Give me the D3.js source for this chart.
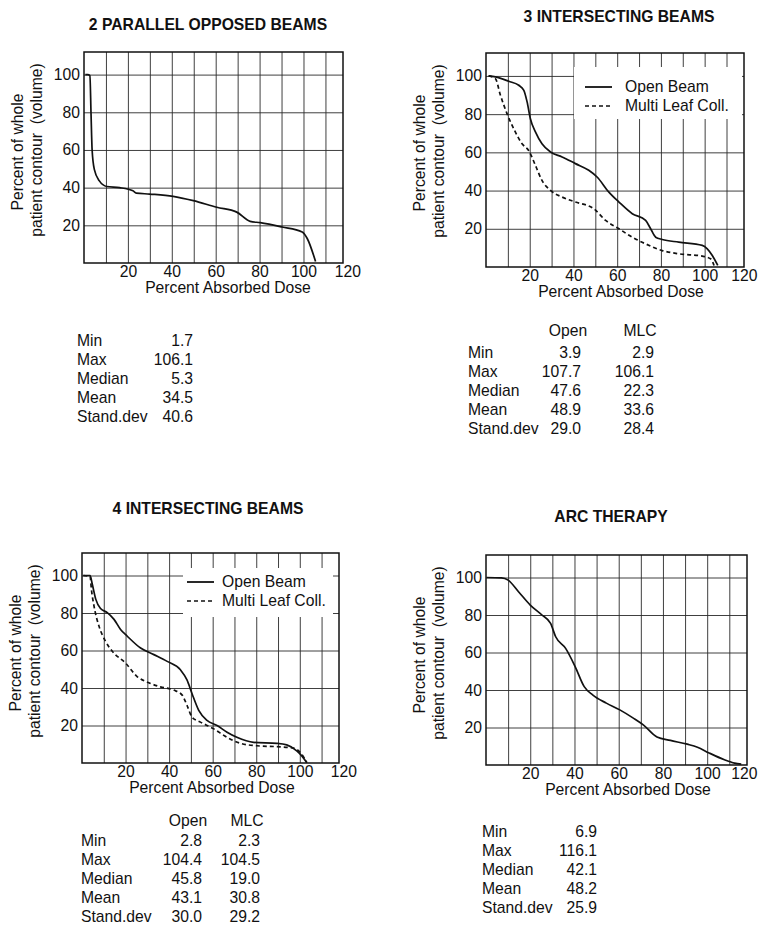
<!DOCTYPE html>
<html>
<head>
<meta charset="utf-8">
<script src="https://cdn.jsdelivr.net/npm/d3@7"></script>
<style>
  body { margin: 0; background: #fff; }
  svg { display: block; font-family: "Liberation Sans", Arial, sans-serif; }
  .grid line { stroke: #2a2a2a; stroke-width: 0.9; }
  .tick text { fill: #111; font-size: 15.7px; }
</style>
</head>
<body>
<svg id="chart"></svg>
<script>
const xTicks = [20, 40, 60, 80, 100, 120];
const yTicks = [20, 40, 60, 80, 100];
const xGrid = [10, 20, 30, 40, 50, 60, 70, 80, 90, 100, 110];
const statLabels = ["Min", "Max", "Median", "Mean", "Stand.dev"];
const seriesNames = ["Open Beam", "Multi Leaf Coll."];
const statHeads = ["Open", "MLC"];

// 2 parallel opposed beams
const parallelDose   = [0.6, 1.7, 2.7, 3.2, 3.7, 4.7, 7.0, 10.4, 16.2, 22.3, 23.8, 29.9, 40.6, 49.8, 60.5, 69.6, 75.7, 80.3, 90.2, 99.4, 101.7, 105.5];
const parallelVolume = [100, 100, 99.5, 79.4, 60.0, 49.7, 43.6, 40.6, 40.0, 38.3, 37.1, 36.6, 35.4, 33.1, 29.6, 27.0, 22.1, 21.4, 19.1, 16.5, 13.0, 0.8];
const parallelStats  = [1.7, 106.1, 5.3, 34.5, 40.6];

// 3 intersecting beams
const threeOpenDose   = [1.2, 4.3, 10.4, 15.0, 17.3, 18.8, 20.3, 22.6, 25.6, 29.5, 34.8, 40.9, 47.0, 50.8, 56.2, 60.8, 66.9, 73.0, 75.3, 77.6, 80.6, 88.2, 98.9, 101.2, 103.5, 106.0];
const threeOpenVolume = [100, 99.5, 97.2, 95.1, 92.5, 86.4, 77.6, 70.7, 64.5, 60.2, 57.6, 54.1, 50.6, 47.1, 39.2, 34.0, 27.9, 24.4, 20.0, 15.6, 14.4, 13.0, 11.3, 9.5, 6.0, 0.8];
const threeMlcDose    = [1.2, 4.3, 6.6, 9.6, 13.4, 16.5, 19.5, 22.6, 25.6, 29.5, 34.8, 40.9, 49.3, 54.7, 60.8, 66.9, 73.0, 80.6, 88.2, 98.9, 102.7, 104.3];
const threeMlcVolume  = [100, 98.6, 89.9, 80.3, 70.7, 64.5, 61.0, 53.2, 45.3, 40.1, 36.6, 34.0, 30.5, 24.4, 20.0, 15.6, 12.1, 8.6, 6.9, 5.7, 4.3, 0.8];
const threeOpenStats  = [3.9, 107.7, 47.6, 48.9, 29.0];
const threeMlcStats   = [2.9, 106.1, 22.3, 33.6, 28.4];

// 4 intersecting beams
const fourOpenDose   = [0.6, 3.7, 4.7, 6.3, 8.5, 11.6, 14.7, 17.7, 20.8, 26.9, 33.0, 39.1, 45.2, 48.2, 50.5, 53.6, 57.4, 62.0, 66.6, 71.1, 78.8, 89.5, 94.0, 98.6, 100.9, 103.2];
const fourOpenVolume = [100, 100, 95.5, 87.4, 82.4, 80.2, 76.6, 71.2, 67.6, 61.3, 57.8, 54.2, 49.7, 44.3, 37.1, 28.1, 22.7, 20.0, 16.4, 13.7, 11.0, 10.5, 9.7, 6.5, 3.8, 0.2];
const fourMlcDose    = [0.6, 3.7, 4.3, 5.5, 7.8, 10.8, 13.9, 20.0, 25.3, 30.7, 36.0, 42.1, 46.0, 48.2, 50.5, 54.4, 60.5, 66.6, 72.7, 80.3, 89.5, 97.1, 100.2, 102.4, 103.2];
const fourMlcVolume  = [100, 99.6, 92.8, 83.8, 73.0, 64.9, 59.6, 53.3, 46.1, 42.8, 40.6, 38.9, 36.2, 30.8, 24.5, 21.8, 18.2, 13.7, 10.5, 9.2, 8.7, 8.0, 5.6, 2.0, 0.2];
const fourOpenStats  = [2.8, 104.4, 45.8, 43.1, 30.0];
const fourMlcStats   = [2.3, 104.5, 19.0, 30.8, 29.2];

// arc therapy
const arcDose   = [0.2, 7.0, 10.0, 14.7, 20.0, 25.3, 29.2, 31.5, 36.0, 40.3, 44.4, 48.2, 54.4, 60.5, 66.6, 71.1, 77.3, 83.4, 91.0, 95.6, 100.9, 107.8, 112.4, 115.4];
const arcVolume = [100, 99.8, 98.6, 92.4, 85.3, 80.0, 75.5, 68.4, 62.2, 52.5, 41.8, 37.4, 33.0, 29.4, 25.0, 21.4, 14.9, 13.1, 11.1, 9.5, 6.4, 2.8, 1.0, 0.5];
const arcStats  = [6.9, 116.1, 42.1, 48.2, 25.9];

const toPoints = (xs, ys) => xs.map((d, i) => ({ dose: d, volume: ys[i] }));

const panels = [
  {
    title: "2 PARALLEL OPPOSED BEAMS", titleX: 208, titleY: 30,
    box: { left: 84, top: 52, width: 259, height: 211 },
    xLabelDx: 144,
    series: [toPoints(parallelDose, parallelVolume)],
    legend: null,
    stats: { cols: [parallelStats], heads: null, labelX: 77, valueX: [193], top: 346 }
  },
  {
    title: "3 INTERSECTING BEAMS", titleX: 619, titleY: 22,
    box: { left: 486, top: 53, width: 258, height: 214 },
    xLabelDx: 135,
    series: [toPoints(threeOpenDose, threeOpenVolume), toPoints(threeMlcDose, threeMlcVolume)],
    legend: { x: 574, y: 67, w: 168, h: 52, lineX: 585, textX: 625, row0: 92 },
    stats: { cols: [threeOpenStats, threeMlcStats], heads: [568, 640], headY: 336, labelX: 468, valueX: [581, 654], top: 358 }
  },
  {
    title: "4 INTERSECTING BEAMS", titleX: 208, titleY: 514,
    box: { left: 82, top: 553, width: 257, height: 210 },
    xLabelDx: 130,
    series: [toPoints(fourOpenDose, fourOpenVolume), toPoints(fourMlcDose, fourMlcVolume)],
    legend: { x: 183, y: 568, w: 150, h: 49, lineX: 187, textX: 222, row0: 587 },
    stats: { cols: [fourOpenStats, fourMlcStats], heads: [188, 247], headY: 826, labelX: 81, valueX: [202, 260], top: 846 }
  },
  {
    title: "ARC THERAPY", titleX: 611, titleY: 522,
    box: { left: 486, top: 555, width: 261, height: 210 },
    xLabelDx: 142,
    series: [toPoints(arcDose, arcVolume)],
    legend: null,
    stats: { cols: [arcStats], heads: null, labelX: 482, valueX: [597], top: 837 }
  }
];

const FS = 15.7;
const W = 758;
const svg = d3.select("#chart").attr("width", W).attr("height", 928);
const fmt = d3.format(".1f");
const dashes = [null, "4,3"];

const drawPanel = p => {
  const b = p.box;
  const g = svg.append("g").attr("transform", `translate(${b.left},${b.top})`);

  const x = d3.scaleLinear().domain([0, 118]).range([0, b.width]);
  const y = d3.scaleLinear().domain([0, 112]).range([b.height, 0]);

  // grid
  g.append("g")
    .attr("class", "grid")
    .attr("transform", `translate(0,${b.height})`)
    .call(d3.axisBottom(x).tickValues(xGrid).tickSize(-b.height).tickFormat(""))
    .call(a => a.select(".domain").remove());
  g.append("g")
    .attr("class", "grid")
    .call(d3.axisLeft(y).tickValues(yTicks).tickSize(-b.width).tickFormat(""))
    .call(a => a.select(".domain").remove());

  // tick labels
  g.append("g")
    .attr("transform", `translate(0,${b.height})`)
    .call(d3.axisBottom(x).tickValues(xTicks).tickSize(0).tickPadding(4))
    .call(a => a.select(".domain").remove())
    .selectAll("text")
    .attr("dy", "0.71em").attr("y", 3)
    .each(function(d) {
      // keep the last label inside the page
      const over = b.left + x(d) + this.getBBox().width / 2 - (W - 1);
      if (over > 0) d3.select(this).attr("x", -over);
    });
  g.append("g")
    .call(d3.axisLeft(y).tickValues(yTicks).tickSize(0).tickPadding(4))
    .call(a => a.select(".domain").remove());

  // legend background covers the grid
  if (p.legend) {
    const L = p.legend;
    svg.append("rect")
      .attr("x", L.x).attr("y", L.y).attr("width", L.w).attr("height", L.h)
      .attr("fill", "#fff");
    seriesNames.forEach((name, i) => {
      const ry = L.row0 + i * 19;
      svg.append("line")
        .attr("x1", L.lineX).attr("x2", L.lineX + 27)
        .attr("y1", ry - 5).attr("y2", ry - 5)
        .attr("stroke", "#111").attr("stroke-width", i ? 1.4 : 1.8)
        .attr("stroke-dasharray", dashes[i]);
      svg.append("text")
        .attr("x", L.textX).attr("y", ry)
        .attr("font-size", FS).attr("fill", "#111")
        .text(name);
    });
  }

  // frame
  g.append("rect")
    .attr("width", b.width).attr("height", b.height)
    .attr("fill", "none").attr("stroke", "#111").attr("stroke-width", 1.5);

  const line = d3.line()
    .x(d => x(d.dose))
    .y(d => y(d.volume))
    .curve(d3.curveMonotoneX);

  p.series.forEach((s, i) => {
    g.append("path")
      .datum(s)
      .attr("fill", "none")
      .attr("stroke", "#111")
      .attr("stroke-width", 1.7)
      .attr("stroke-linejoin", "round")
      .attr("stroke-dasharray", dashes[i])
      .attr("d", line);
  });

  // title
  svg.append("text")
    .attr("x", p.titleX).attr("y", p.titleY)
    .attr("text-anchor", "middle")
    .attr("font-size", FS).attr("font-weight", "bold").attr("fill", "#111")
    .text(p.title);

  // axis titles
  svg.append("text")
    .attr("x", b.left + p.xLabelDx).attr("y", b.top + b.height + 30)
    .attr("text-anchor", "middle")
    .attr("font-size", FS).attr("fill", "#111")
    .text("Percent Absorbed Dose");

  const yl = svg.append("g")
    .attr("transform", `translate(${b.left - 61},${b.top + 100}) rotate(-90)`);
  yl.append("text")
    .attr("text-anchor", "middle").attr("font-size", FS).attr("fill", "#111")
    .text("Percent of whole");
  yl.append("text")
    .attr("x", 2).attr("y", 19)
    .attr("text-anchor", "middle").attr("font-size", FS).attr("fill", "#111")
    .attr("xml:space", "preserve")
    .text("patient contour  (volume)");

  // stats table
  const st = p.stats;
  if (st.heads) {
    statHeads.forEach((h, i) => {
      svg.append("text")
        .attr("x", st.heads[i]).attr("y", st.headY)
        .attr("text-anchor", "middle")
        .attr("font-size", FS).attr("fill", "#111")
        .text(h);
    });
  }
  statLabels.forEach((lab, r) => {
    const ry = st.top + r * 19;
    svg.append("text")
      .attr("x", st.labelX).attr("y", ry)
      .attr("font-size", FS).attr("fill", "#111")
      .text(lab);
    st.cols.forEach((col, c) => {
      svg.append("text")
        .attr("x", st.valueX[c]).attr("y", ry)
        .attr("text-anchor", "end")
        .attr("font-size", FS).attr("fill", "#111")
        .text(fmt(col[r]));
    });
  });
};

panels.forEach(drawPanel);
</script>
</body>
</html>
